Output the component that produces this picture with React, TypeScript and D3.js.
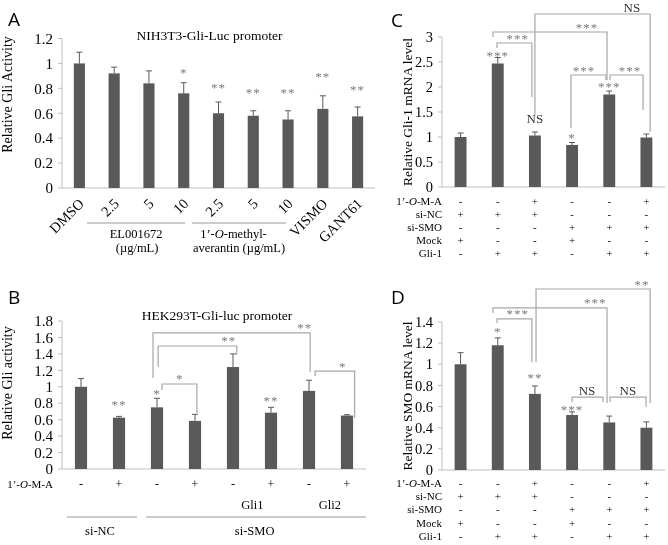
import * as d3 from 'd3';
import type { ReactNode } from 'react';

// ---- Panel A: NIH3T3 reporter ----
const aCats = ['DMSO', '2.5', '5', '10', '2.5', '5', '10', 'VISMO', 'GANT61'];
const aMeans = [1.0, 0.92, 0.84, 0.76, 0.6, 0.58, 0.55, 0.635, 0.575];
const aErrs = [0.09, 0.05, 0.1, 0.085, 0.09, 0.04, 0.07, 0.105, 0.075];
const aSig = ['', '', '', '*', '**', '**', '**', '**', '**'];
const aTicks = [0, 0.2, 0.4, 0.6, 0.8, 1, 1.2];

// ---- Panel B: HEK293T reporter ----
const bOMA = ['-', '+', '-', '+', '-', '+', '-', '+'];
const bMeans = [1.0, 0.625, 0.75, 0.585, 1.24, 0.685, 0.95, 0.65];
const bErrs = [0.1, 0.015, 0.11, 0.08, 0.16, 0.065, 0.13, 0.01];
const bSig = ['', '**', '*', '', '', '**', '', ''];
const bTicks = [0, 0.2, 0.4, 0.6, 0.8, 1, 1.2, 1.4, 1.6, 1.8];

// ---- Panel C: Gli-1 mRNA ----
const cMeans = [1.0, 2.47, 1.03, 0.84, 1.85, 0.99];
const cErrs = [0.08, 0.12, 0.07, 0.05, 0.07, 0.07];
const cSig = ['', '***', 'NS', '*', '***', ''];
const cTicks = [0, 0.5, 1, 1.5, 2, 2.5, 3];

// ---- Panel D: SMO mRNA ----
const dMeans = [1.0, 1.18, 0.72, 0.52, 0.45, 0.4];
const dErrs = [0.11, 0.07, 0.075, 0.03, 0.06, 0.055];
const dSig = ['', '*', '**', '***', '', ''];
const dTicks = [0, 0.2, 0.4, 0.6, 0.8, 1, 1.2, 1.4];

// treatment grid shared by C and D
const treatRows = ['1’-O-M-A', 'si-NC', 'si-SMO', 'Mock', 'Gli-1'];
const treatMarks = [
  ['-', '-', '+', '-', '-', '+'],
  ['+', '+', '+', '-', '-', '-'],
  ['-', '-', '-', '+', '+', '+'],
  ['+', '-', '-', '+', '-', '-'],
  ['-', '+', '+', '-', '+', '+'],
];

interface Bracket {
  a: number; // fractional bar index of left leg
  b: number;
  y: number; // data units
  ya: number; // bottom of left leg
  yb: number; // bottom of right leg
  label: string;
  lx: number; // fractional index of the label
}

const bBrackets: Bracket[] = [
  { a: 2.13, b: 3.05, y: 1.034, ya: 0.96, yb: 0.68, label: '*', lx: 2.6 },
  { a: 2.03, b: 4.1, y: 1.496, ya: 1.24, yb: 1.39, label: '**', lx: 3.89 },
  { a: 1.895, b: 6.03, y: 1.655, ya: 1.107, yb: 1.18, label: '**', lx: 5.89 },
  { a: 6.16, b: 7.2, y: 1.19, ya: 1.13, yb: 0.62, label: '*', lx: 6.89 },
];

const cBrackets: Bracket[] = [
  { a: 2.0, b: 5.1, y: 3.46, ya: 1.44, yb: 1.1, label: 'NS', lx: 4.61 },
  { a: 0.87, b: 3.94, y: 3.1, ya: 3.0, yb: 2.14, label: '***', lx: 3.4 },
  { a: 0.98, b: 1.92, y: 2.88, ya: 2.78, yb: 1.8, label: '***', lx: 1.54 },
  { a: 2.97, b: 3.91, y: 2.24, ya: 1.18, yb: 2.14, label: '***', lx: 3.32 },
  { a: 4.02, b: 4.91, y: 2.24, ya: 2.14, yb: 1.54, label: '***', lx: 4.56 },
];

const dBrackets: Bracket[] = [
  { a: 2.03, b: 5.1, y: 1.712, ya: 1.02, yb: 0.634, label: '**', lx: 4.88 },
  { a: 0.87, b: 3.94, y: 1.533, ya: 1.485, yb: 0.634, label: '***', lx: 3.62 },
  { a: 0.98, b: 1.92, y: 1.429, ya: 1.39, yb: 1.02, label: '***', lx: 1.54 },
  { a: 3.0, b: 3.83, y: 0.69, ya: 0.643, yb: 0.643, label: 'NS', lx: 3.4 },
  { a: 4.02, b: 4.99, y: 0.69, ya: 0.643, yb: 0.596, label: 'NS', lx: 4.5 },
];

const SERIF = '"Liberation Serif", "Times New Roman", serif';
const SANS = '"Open Sans", "Liberation Sans", sans-serif';
const BAR = '#595959';
const AXIS = '#bfbfbf';
const LINK = '#a6a6a6';
const STAR = '#7a7a7a';

// baseline for a label whose glyphs should be centred on cy
function labelBase(label: string, cy: number) {
  return cy + (label === 'NS' ? 4.5 : 6);
}

function SigText({ x, cy, label }: { x: number; cy: number; label: string }) {
  if (!label) return null;
  const ns = label === 'NS';
  return (
    <text
      x={x}
      y={labelBase(label, cy)}
      textAnchor="middle"
      fontFamily={SERIF}
      fontSize={13}
      fill={ns ? '#333' : STAR}
      letterSpacing={ns ? 0 : 1}
    >
      {label}
    </text>
  );
}

interface PanelProps {
  means: number[];
  errs: number[];
  sig: string[];
  sigGap: number[];
  ticks: number[];
  x0: number;
  x1: number;
  yBase: number;
  yTop: number;
  tickFont: number;
  brackets?: Bracket[];
  extra?: (pos: d3.ScaleLinear<number, number>) => ReactNode;
}

function BarPanel(p: PanelProps) {
  const n = p.means.length;
  const yMax = p.ticks[p.ticks.length - 1];
  const x = d3
    .scaleBand<number>()
    .domain(d3.range(n))
    .range([p.x0, p.x1])
    .paddingInner(0.68)
    .paddingOuter(0.34);
  const pos = d3.scaleLinear().domain([-0.5, n - 0.5]).range([p.x0, p.x1]);
  const y = d3.scaleLinear().domain([0, yMax]).range([p.yBase, p.yTop]);
  const bw = x.bandwidth();

  return (
    <g>
      {/* axes */}
      <line x1={p.x0} x2={p.x0} y1={y(0)} y2={y(yMax)} stroke={AXIS} />
      <line x1={p.x0} x2={p.x1} y1={y(0)} y2={y(0)} stroke={AXIS} />
      {p.ticks.map((t) => (
        <g key={t}>
          <line x1={p.x0 - 4} x2={p.x0} y1={y(t)} y2={y(t)} stroke={AXIS} />
          <text
            x={p.x0 - 9}
            y={y(t)}
            dy="0.35em"
            textAnchor="end"
            fontFamily={SERIF}
            fontSize={p.tickFont}
          >
            {String(t)}
          </text>
        </g>
      ))}

      {/* bars + error bars */}
      {p.means.map((m, i) => {
        const cx = (x(i) ?? 0) + bw / 2;
        const top = y(m + p.errs[i]);
        return (
          <g key={i}>
            <rect x={x(i)} y={y(m)} width={bw} height={y(0) - y(m)} fill={BAR} />
            <line x1={cx} x2={cx} y1={y(m)} y2={top} stroke={BAR} />
            <line x1={cx - 3} x2={cx + 3} y1={top} y2={top} stroke={BAR} />
            <SigText x={cx} cy={top - p.sigGap[i]} label={p.sig[i]} />
          </g>
        );
      })}

      {/* comparison brackets */}
      {(p.brackets ?? []).map((b, i) => (
        <g key={i}>
          <path
            d={`M${pos(b.a)},${y(b.ya)}V${y(b.y)}H${pos(b.b)}V${y(b.yb)}`}
            fill="none"
            stroke={LINK}
            strokeWidth={1.2}
          />
          <SigText x={pos(b.lx)} cy={y(b.y) - 6.5} label={b.label} />
        </g>
      ))}

      {p.extra?.(pos)}
    </g>
  );
}

function OMA() {
  return (
    <>
      1’-<tspan fontStyle="italic">O</tspan>-M-A
    </>
  );
}

function TreatGrid({
  pos,
  y0,
  step,
}: {
  pos: d3.ScaleLinear<number, number>;
  y0: number;
  step: number;
}) {
  return (
    <g fontFamily={SERIF} fontSize={11}>
      {treatRows.map((r, ri) => (
        <g key={r}>
          <text x={442} y={y0 + ri * step} textAnchor="end">
            {ri === 0 ? <OMA /> : r}
          </text>
          {treatMarks[ri].map((m, i) => (
            <text key={i} x={pos(i)} y={y0 + ri * step} textAnchor="middle">
              {m}
            </text>
          ))}
        </g>
      ))}
    </g>
  );
}

export default function App() {
  return (
    <svg
      width={668}
      height={545}
      style={{ position: 'absolute', left: 0, top: 0, background: '#fff' }}
    >
      {/* a no-op filter makes the text rasterise in greyscale */}
      <defs>
        <filter id="flat" x="0" y="0" width="1" height="1">
          <feOffset dx={0} dy={0} />
        </filter>
      </defs>
      <g filter="url(#flat)">
        <rect width={668} height={545} fill="#fff" />
        {/* panel letters */}
        <g fontFamily={SANS} fontSize={19}>
          <text x={8} y={26}>A</text>
          <text x={8} y={304}>B</text>
          <text x={391} y={27}>C</text>
          <text x={391} y={304}>D</text>
        </g>

        {/* titles & axis titles */}
        <g fontFamily={SERIF}>
          <text x={209.5} y={40} textAnchor="middle" fontSize={13.5}>
            NIH3T3-Gli-Luc promoter
          </text>
          <text x={217} y={320} textAnchor="middle" fontSize={13.5}>
            HEK293T-Gli-luc promoter
          </text>
          <text transform="translate(12,94.5) rotate(-90)" textAnchor="middle" fontSize={14}>
            Relative Gli Activity
          </text>
          <text transform="translate(12,383) rotate(-90)" textAnchor="middle" fontSize={14}>
            Relative Gli activity
          </text>
          <text transform="translate(412,112) rotate(-90)" textAnchor="middle" fontSize={13.5}>
            Relative Gli-1 mRNA level
          </text>
          <text transform="translate(412,396) rotate(-90)" textAnchor="middle" fontSize={13.5}>
            Relative SMO mRNA level
          </text>
        </g>

        <BarPanel
          means={aMeans}
          errs={aErrs}
          sig={aSig}
          sigGap={[0, 0, 0, 12, 16, 20, 20, 21, 19]}
          ticks={aTicks}
          x0={62}
          x1={375}
          yBase={188}
          yTop={38.5}
          tickFont={15}
          extra={(pos) => (
            <g fontFamily={SERIF}>
              {aCats.map((c, i) => (
                <text
                  key={i}
                  transform={`translate(${pos(i) + 2},201) rotate(-45)`}
                  dy="0.35em"
                  textAnchor="end"
                  fontSize={14.5}
                >
                  {c}
                </text>
              ))}
              <line x1={pos(0.22)} x2={pos(3.04)} y1={223} y2={223} stroke="#999" strokeWidth={1.2} />
              <line x1={pos(3.24)} x2={pos(5.94)} y1={223} y2={223} stroke="#999" strokeWidth={1.2} />
              <g fontSize={12.5} textAnchor="middle">
                <text x={pos(1.63)} y={238}>EL001672</text>
                <text x={pos(1.66)} y={252}>(µg/mL)</text>
                <text x={pos(4.43)} y={238}>
                  1’-<tspan fontStyle="italic">O</tspan>-methyl-
                </text>
                <text x={pos(4.59)} y={252}>averantin (µg/mL)</text>
              </g>
            </g>
          )}
        />

        <BarPanel
          means={bMeans}
          errs={bErrs}
          sig={bSig}
          sigGap={[0, 13, 6, 0, 0, 8, 0, 0]}
          ticks={bTicks}
          x0={62}
          x1={366}
          yBase={469}
          yTop={321}
          tickFont={15}
          brackets={bBrackets}
          extra={(pos) => (
            <g fontFamily={SERIF}>
              <text x={53} y={488} textAnchor="end" fontSize={11}>
                <OMA />
              </text>
              {bOMA.map((m, i) => (
                <text key={i} x={pos(i)} y={488} textAnchor="middle" fontSize={12}>
                  {m}
                </text>
              ))}
              <g fontSize={12.5} textAnchor="middle">
                <text x={pos(4.51)} y={509}>Gli1</text>
                <text x={pos(6.55)} y={509}>Gli2</text>
                <text x={pos(0.5)} y={535}>si-NC</text>
                <text x={pos(4.57)} y={535}>si-SMO</text>
              </g>
              <line x1={pos(-0.37)} x2={pos(1.47)} y1={517} y2={517} stroke="#999" strokeWidth={1.2} />
              <line x1={pos(1.71)} x2={pos(7.5)} y1={517} y2={517} stroke="#999" strokeWidth={1.2} />
            </g>
          )}
        />

        <BarPanel
          means={cMeans}
          errs={cErrs}
          sig={cSig}
          sigGap={[0, 4, 14, 7, 6, 0]}
          ticks={cTicks}
          x0={442}
          x1={665}
          yBase={187}
          yTop={37}
          tickFont={14.5}
          brackets={cBrackets}
          extra={(pos) => <TreatGrid pos={pos} y0={205} step={13} />}
        />

        <BarPanel
          means={dMeans}
          errs={dErrs}
          sig={dSig}
          sigGap={[0, 8, 10, 4, 0, 0]}
          ticks={dTicks}
          x0={442}
          x1={665}
          yBase={470}
          yTop={322}
          tickFont={14.5}
          brackets={dBrackets}
          extra={(pos) => <TreatGrid pos={pos} y0={487} step={13.2} />}
        />
      </g>
    </svg>
  );
}
